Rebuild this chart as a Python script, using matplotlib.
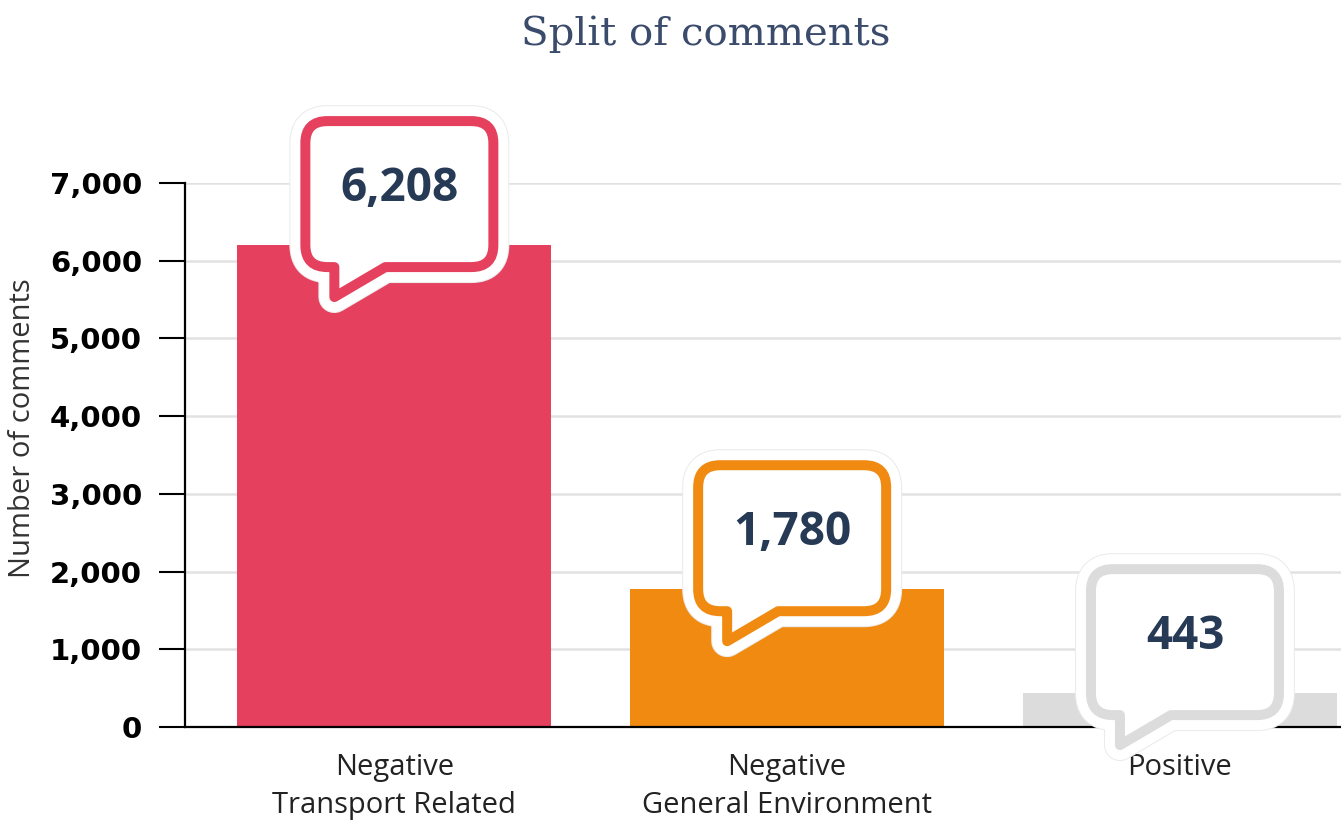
import matplotlib
matplotlib.use("Agg")
import matplotlib.pyplot as plt
from matplotlib.path import Path
from matplotlib.patches import PathPatch
from matplotlib.ticker import FuncFormatter

# data
categories = ["Negative\nTransport Related", "Negative\nGeneral Environment", "Positive"]
counts = [6208, 1780, 443]
bar_colors = ["#E5415F", "#F08A10", "#DCDCDC"]
yticks = [0, 1000, 2000, 3000, 4000, 5000, 6000, 7000]

W, H = 1341, 822
fig = plt.figure(figsize=(W / 100, H / 100), dpi=100)
ax_l, ax_r, ax_b, ax_t = 185, 1341, 727, 183
ax = fig.add_axes([ax_l / W, 1 - ax_b / H, (ax_r - ax_l) / W, (ax_b - ax_t) / H])

xlim = (-0.533, 2.41)
ylim = (0, 7000)
ax.set_xlim(*xlim)
ax.set_ylim(*ylim)

x = list(range(len(categories)))
ax.bar(x, counts, width=0.8, color=bar_colors, zorder=2)

# axes styling
for s in ["top", "right"]:
    ax.spines[s].set_visible(False)
ax.spines["left"].set_linewidth(1.6)
ax.spines["bottom"].set_linewidth(1.6)
ax.spines["bottom"].set_zorder(3)
ax.set_yticks(yticks)
ax.yaxis.set_major_formatter(FuncFormatter(lambda v, p: f"{int(v):,}"))
ax.tick_params(axis="y", length=19, width=1.5, pad=12, labelsize=21)
for lab in ax.get_yticklabels():
    lab.set_fontweight("bold")
    lab.set_family("DejaVu Sans")
ax.yaxis.grid(True, color="#E2E2E2", linewidth=1.8, zorder=0)
ax.set_axisbelow(True)

ax.set_xticks(x)
ax.set_xticklabels(categories, family="Open Sans", fontsize=21, color="#222222",
                   linespacing=1.4)
ax.tick_params(axis="x", length=0, pad=19)

ax.set_ylabel("Number of comments", family="Open Sans", fontsize=21, color="#333333")
ax.yaxis.set_label_coords(-0.128, 0.55)

fig.text(706 / W, 1 - 34 / H, "Split of comments", family="DejaVu Serif",
         fontsize=29, color="#3B4B6B", ha="center", va="center")

# speech bubbles, geometry in pixels converted to data units
px_x = (ax_r - ax_l) / (xlim[1] - xlim[0])
px_y = (ax_b - ax_t) / (ylim[1] - ylim[0])


def bubble_path(cx, by, w=188, h=146, r=22):
    L, R, B, T = -w / 2, w / 2, 0, h
    pts = [(L + 29, B), (L + 29, -30), (L + 80, B), (R - r, B),
           (R, B), (R, B + r), (R, T - r), (R, T), (R - r, T),
           (L + r, T), (L, T), (L, T - r), (L, B + r), (L, B), (L + r, B),
           (L + 29, B)]
    codes = [Path.MOVETO, Path.LINETO, Path.LINETO, Path.LINETO,
             Path.CURVE3, Path.CURVE3, Path.LINETO, Path.CURVE3, Path.CURVE3,
             Path.LINETO, Path.CURVE3, Path.CURVE3, Path.LINETO, Path.CURVE3, Path.CURVE3,
             Path.CLOSEPOLY]
    verts = [(cx + px / px_x, by + py / px_y) for px, py in pts]
    return Path(verts, codes)


for xi, v, c in zip(x, counts, bar_colors):
    cx = xi + 5 / px_x
    by = v - 290
    p = bubble_path(cx, by)
    ax.add_patch(PathPatch(p, facecolor="none", edgecolor="#EBEBEB", lw=23,
                           joinstyle="round", zorder=4, clip_on=False))
    ax.add_patch(PathPatch(p, facecolor="white", edgecolor="white", lw=21.5,
                           joinstyle="round", zorder=5, clip_on=False))
    ax.add_patch(PathPatch(p, facecolor="white", edgecolor=c, lw=7.2,
                           joinstyle="round", zorder=6, clip_on=False))
    ax.text(cx, by + (73 + 6) / px_y, f"{v:,}", family="Open Sans", fontweight="bold",
            fontsize=33, color="#263A55", ha="center", va="center", zorder=7)

plt.savefig("out.png", dpi=100)
